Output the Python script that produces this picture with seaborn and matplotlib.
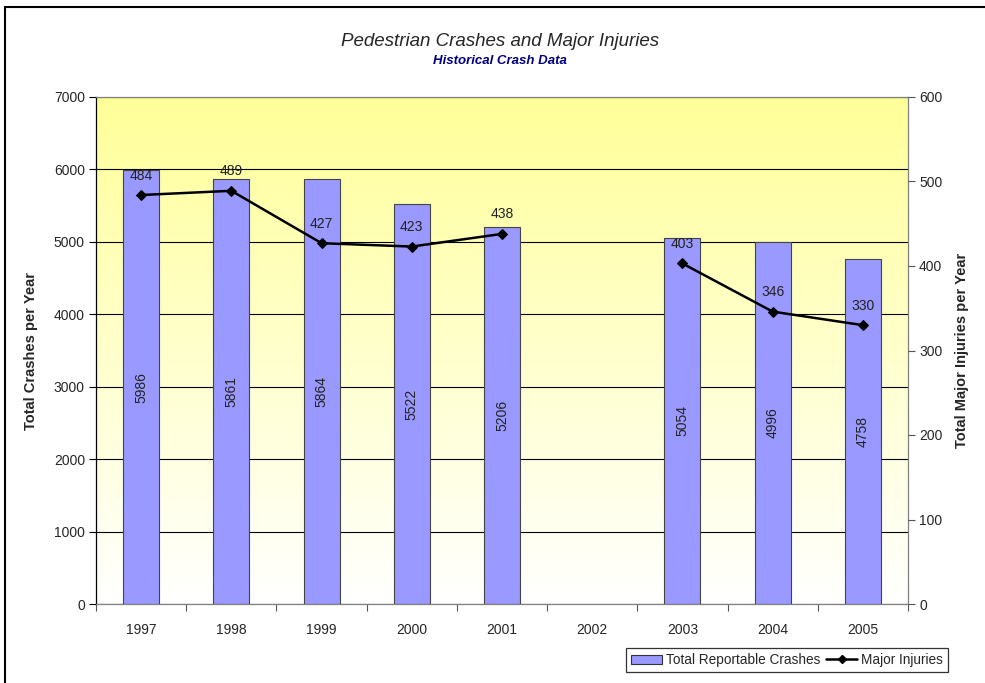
import numpy as np
import pandas as pd
import seaborn as sns
import matplotlib.pyplot as plt
from matplotlib.patches import Patch, Rectangle
from matplotlib.lines import Line2D
from matplotlib.colors import LinearSegmentedColormap

# dados (2002 sem dados)
anos = ['1997', '1998', '1999', '2000', '2001', '2002', '2003', '2004', '2005']
acidentes = [5986, 5861, 5864, 5522, 5206, np.nan, 5054, 4996, 4758]
feridos_graves = [484, 489, 427, 423, 438, np.nan, 403, 346, 330]

df = pd.DataFrame({'ano': anos, 'acidentes': acidentes, 'feridos': feridos_graves})
df['pos'] = np.arange(len(df))
df['seg'] = df['feridos'].isna().cumsum()

sns.set_theme(style='white')
plt.rcParams['font.family'] = ['Liberation Sans', 'DejaVu Sans']

fig = plt.figure(figsize=(9.85, 6.83), dpi=100)
ax = fig.add_axes([96 / 985, 1 - 604 / 683, (908 - 96) / 985, (604 - 97) / 683])

# fundo em degradê amarelo -> branco
cmap = LinearSegmentedColormap.from_list('fundo', ['#FFFFFF', '#FFFF99'])
grad = np.linspace(0, 1, 256).reshape(-1, 1)
ax.imshow(grad, extent=[0, 1, 0, 1], transform=ax.transAxes, aspect='auto',
          cmap=cmap, origin='lower', zorder=0)

sns.barplot(data=df, x='ano', y='acidentes', order=anos, ax=ax, color='#9999FF',
            edgecolor='#444444', linewidth=0.8, width=0.4, saturation=1, zorder=2)

ax.set_xlim(-0.5, len(anos) - 0.5)
ax.set_ylim(0, 7000)
ax.set_yticks(range(0, 7001, 1000))
ax.grid(axis='y', color='black', linewidth=0.8, zorder=1)
ax.set_axisbelow(True)

# rótulos dentro das barras
for i, v in enumerate(acidentes):
    if not np.isnan(v):
        ax.text(i, v / 2, f'{int(v)}', rotation=90, ha='center', va='center',
                fontsize=10, color='#222222', zorder=3)

ax.set_xlabel('')
ax.set_ylabel('Total Crashes per Year', fontsize=10.5, fontweight='bold', labelpad=11)
ax.tick_params(axis='y', direction='out', length=5, width=0.8, color='black',
               labelsize=10, pad=3, left=True)
ax.tick_params(axis='x', which='major', length=0, labelsize=10, pad=14)
ax.set_xticks(np.arange(-0.5, len(anos), 1), minor=True)
ax.tick_params(axis='x', which='minor', direction='out', length=5, width=0.8,
               color='#555555', bottom=True)

for lado in ['top', 'right', 'bottom']:
    ax.spines[lado].set_color('#808080')
ax.spines['left'].set_color('black')
for s in ax.spines.values():
    s.set_linewidth(0.9)

# eixo secundário: feridos graves
ax2 = ax.twinx()
sns.lineplot(data=df.dropna(subset=['feridos']), x='pos', y='feridos', units='seg',
             estimator=None, ax=ax2, color='black', linewidth=1.8, marker='D',
             markersize=5, markeredgecolor='black', zorder=4)
ax2.set_ylim(0, 600)
ax2.set_yticks(range(0, 601, 100))
ax2.set_xlim(-0.5, len(anos) - 0.5)
ax2.set_ylabel('Total Major Injuries per Year', fontsize=10.5, fontweight='bold', labelpad=9)
ax2.tick_params(axis='y', direction='out', length=5, width=0.8, color='#555555',
                labelsize=10, pad=3, right=True)
for s in ax2.spines.values():
    s.set_visible(False)

for i, v in enumerate(feridos_graves):
    if not np.isnan(v):
        ax2.annotate(f'{int(v)}', (i, v), xytext=(0, 14), textcoords='offset points',
                     ha='center', va='center', fontsize=10, color='#222222', zorder=5)

# títulos
fig.text(500 / 985, 1 - 42 / 683, 'Pedestrian Crashes and Major Injuries',
         ha='center', va='center', fontsize=13.5, fontstyle='italic')
fig.text(500 / 985, 1 - 61 / 683, 'Historical Crash Data', ha='center', va='center',
         fontsize=9.5, fontstyle='italic', fontweight='bold', color='#000080')

# legenda
handles = [Patch(facecolor='#9999FF', edgecolor='#333333', linewidth=0.8),
           Line2D([], [], color='black', linewidth=1.8, marker='D', markersize=4)]
leg = fig.legend(handles, ['Total Reportable Crashes', 'Major Injuries'], loc='center',
                 bbox_to_anchor=(787 / 985, 1 - 660 / 683), ncol=2, frameon=True,
                 fancybox=False, fontsize=9.8, handlelength=2.3, handleheight=0.6,
                 columnspacing=0.4, handletextpad=0.3, borderpad=0.35)
leg.get_frame().set_edgecolor('black')
leg.get_frame().set_linewidth(0.9)

# moldura do gráfico
fig.add_artist(Rectangle((5 / 985, -0.1), 1.2, 1 - 7 / 683 + 0.1, transform=fig.transFigure,
                         fill=False, edgecolor='black', linewidth=1.5))

plt.savefig('out.png', dpi=100)
plt.close()
